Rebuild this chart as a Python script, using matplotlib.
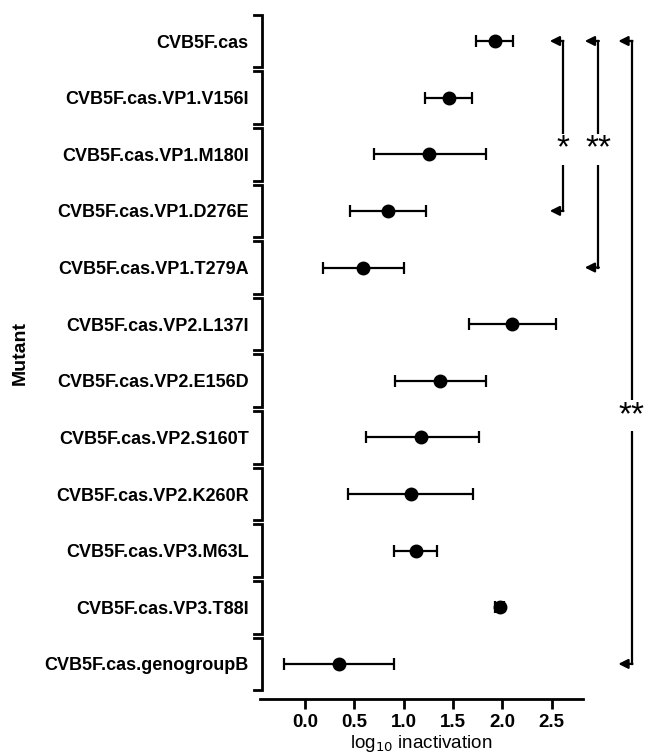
import matplotlib.pyplot as plt
import matplotlib.transforms as mtransforms

plt.rcParams['font.family'] = ['Liberation Sans', 'DejaVu Sans']

mutants = ['CVB5F.cas', 'CVB5F.cas.VP1.V156I', 'CVB5F.cas.VP1.M180I',
           'CVB5F.cas.VP1.D276E', 'CVB5F.cas.VP1.T279A', 'CVB5F.cas.VP2.L137I',
           'CVB5F.cas.VP2.E156D', 'CVB5F.cas.VP2.S160T', 'CVB5F.cas.VP2.K260R',
           'CVB5F.cas.VP3.M63L', 'CVB5F.cas.VP3.T88I', 'CVB5F.cas.genogroupB']
mean = [1.92, 1.46, 1.26, 0.845, 0.59, 2.10, 1.37, 1.18, 1.07, 1.12, 1.975, 0.345]
low = [1.73, 1.22, 0.70, 0.46, 0.18, 1.66, 0.91, 0.615, 0.435, 0.905, 1.93, -0.21]
high = [2.11, 1.69, 1.83, 1.23, 1.00, 2.54, 1.83, 1.76, 1.70, 1.34, 2.02, 0.905]

# significance brackets: (first row, last row, label)
brackets = [(0, 3, '*'), (0, 4, '**'), (0, 11, '**')]

fig = plt.figure(figsize=(6.48, 7.56), dpi=100)
ax = fig.add_axes([0.4012, 0.0754, 0.4985, 0.9153])

y = list(range(len(mutants)))
xerr = [[m - l for m, l in zip(mean, low)], [h - m for m, h in zip(mean, high)]]
ax.errorbar(mean, y, xerr=xerr, fmt='o', color='black', ms=9,
            elinewidth=1.6, capsize=4.5, capthick=1.6)

ax.set_xlim(-0.457, 2.817)
ax.set_ylim(11.62, -0.6)
ax.set_xticks([0.0, 0.5, 1.0, 1.5, 2.0, 2.5])
ax.set_xticklabels(['0.0', '0.5', '1.0', '1.5', '2.0', '2.5'],
                   fontsize=13.5, fontweight='bold')
ax.set_yticks(y)
ax.set_yticklabels(mutants, fontsize=13, fontweight='bold')
ax.tick_params(axis='y', length=0, pad=8)
ax.tick_params(axis='x', length=7, width=2, pad=4)

for s in ['top', 'right', 'left']:
    ax.spines[s].set_visible(False)
ax.spines['bottom'].set_linewidth(2)

ax.set_xlabel('log$_{10}$ inactivation', fontsize=13.5, labelpad=1)
ax.set_ylabel('Mutant', fontsize=14, fontweight='bold')
ax.yaxis.set_label_coords(-0.715, 0.5)

# segmented y axis
trans = mtransforms.blended_transform_factory(ax.transAxes, ax.transData)
x0 = 0.006
tl = 0.026
for i in y:
    top, bot = i - 0.465, i + 0.465
    ax.plot([x0 - tl, x0, x0, x0 - tl], [top, top, bot, bot], color='black',
            lw=2, transform=trans, clip_on=False, solid_joinstyle='miter')

# significance brackets
bx = [(2.61, 2.48), (2.97, 2.835), (3.31, 3.175)]
star_y = [1.85, 1.85, 6.55]
for (r0, r1, lab), (xv, xt), sy in zip(brackets, bx, star_y):
    ax.plot([xv, xv], [r0, r1], color='black', lw=1.6, clip_on=False)
    for r in (r0, r1):
        ax.annotate('', xy=(xt, r), xytext=(xv + 0.008, r),
                    arrowprops=dict(arrowstyle='-|>', color='black', lw=1.6,
                                    shrinkA=0, shrinkB=0, mutation_scale=14),
                    annotation_clip=False)
    ax.text(xv, sy, lab, fontsize=24, ha='center', va='center_baseline',
            clip_on=False,
            bbox=dict(facecolor='white', edgecolor='none', pad=0))

fig.savefig('out.png', dpi=100)
